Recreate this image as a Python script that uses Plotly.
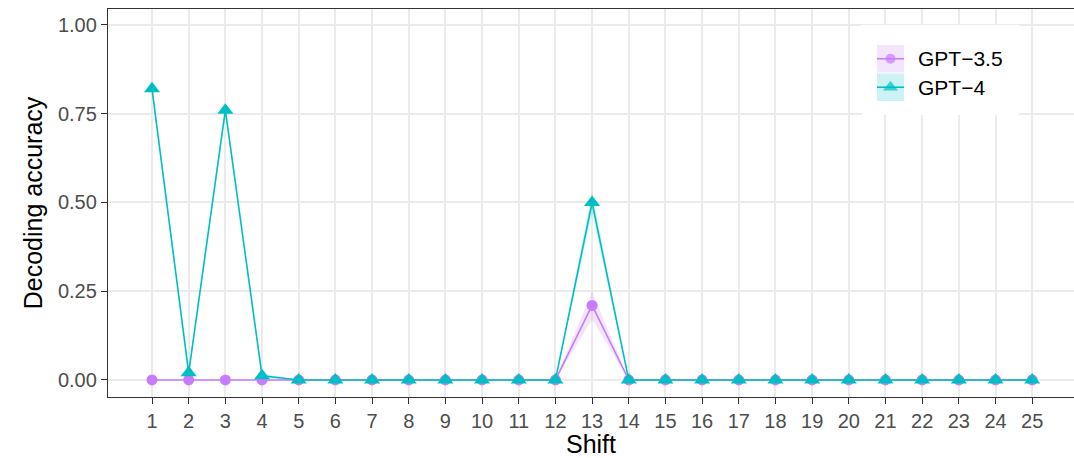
import plotly.graph_objects as go

shift = list(range(1, 26))
gpt35 = [0, 0, 0, 0, 0, 0, 0, 0, 0, 0, 0, 0, 0.21, 0, 0, 0, 0, 0, 0, 0, 0, 0, 0, 0, 0]
gpt35_se = [0, 0, 0, 0, 0, 0, 0, 0, 0, 0, 0, 0, 0.04, 0, 0, 0, 0, 0, 0, 0, 0, 0, 0, 0, 0]
gpt4 = [0.82, 0.02, 0.76, 0.012, 0, 0, 0, 0, 0, 0, 0, 0, 0.50, 0, 0, 0, 0, 0, 0, 0, 0, 0, 0, 0, 0]
gpt4_se = [0.01, 0.01, 0.01, 0.006, 0, 0, 0, 0, 0, 0, 0, 0, 0.03, 0, 0, 0, 0, 0, 0, 0, 0, 0, 0, 0, 0]
series_names = ["GPT\u22123.5", "GPT\u22124"]
colors = ["#C77CFF", "#00BFC4"]
fills = ["rgba(199,124,255,0.2)", "rgba(0,191,196,0.2)"]
symbols = ["circle", "triangle-up"]
sizes = [11, 14]
y_ticks = [0, 0.25, 0.5, 0.75, 1.0]
y_ticklabels = ["0.00", "0.25", "0.50", "0.75", "1.00"]

W, H = 1074, 458
ML, MR, MT, MB = 108, 0, 9, 61
FONT = "Liberation Sans, Arial"

fig = go.Figure()
for vals, se, fc in zip([gpt35, gpt4], [gpt35_se, gpt4_se], fills):
    up = [v + s for v, s in zip(vals, se)]
    lo = [v - s for v, s in zip(vals, se)]
    fig.add_trace(go.Scatter(x=shift + shift[::-1], y=up + lo[::-1], fill="toself",
                             fillcolor=fc, line=dict(width=0), mode="lines",
                             hoverinfo="skip", showlegend=False))
for vals, name, col, sym, sz in zip([gpt35, gpt4], series_names, colors, symbols, sizes):
    fig.add_trace(go.Scatter(x=shift, y=vals, mode="lines+markers", name=name,
                             line=dict(color=col, width=1.6),
                             marker=dict(color=col, symbol=sym, size=sz, line=dict(width=0)),
                             showlegend=False))

# manual ggplot-style legend drawn on an overlay axis spanning the plot area (pixel-based)
def px_x(p):
    return (p - ML) / (W - ML - MR)

def px_y(p):
    return (H - MB - p) / (H - MT - MB)

def rect(x0, x1, y0, y1):
    return ([px_x(x0), px_x(x1), px_x(x1), px_x(x0), px_x(x0)],
            [px_y(y0), px_y(y0), px_y(y1), px_y(y1), px_y(y0)])

bx, by = rect(862, 1019, 25, 115)
fig.add_trace(go.Scatter(x=bx, y=by, xaxis="x2", yaxis="y2", fill="toself", fillcolor="white",
                         mode="lines", line=dict(width=0), hoverinfo="skip", showlegend=False))
annotations = []
key_tops = [45, 73.5]
for i, (name, col, fc, sym, sz) in enumerate(zip(series_names, colors, fills, symbols, sizes)):
    t = key_tops[i]
    kx, ky = rect(877, 904, t, t + 27.5)
    fig.add_trace(go.Scatter(x=kx, y=ky, xaxis="x2", yaxis="y2", fill="toself", fillcolor=fc,
                             mode="lines", line=dict(width=0), hoverinfo="skip", showlegend=False))
    cy = px_y(t + 13.75)
    fig.add_trace(go.Scatter(x=[px_x(877), px_x(890.5), px_x(904)], y=[cy, cy, cy],
                             xaxis="x2", yaxis="y2", mode="lines+markers",
                             line=dict(color=col, width=1.6),
                             marker=dict(color=col, symbol=sym, size=[0, sz - 1, 0], line=dict(width=0)),
                             hoverinfo="skip", showlegend=False))
    annotations.append(dict(xref="paper", yref="paper", x=px_x(916), y=px_y(t + 14),
                            text=name, showarrow=False, xanchor="left", yanchor="middle",
                            font=dict(size=21, color="black", family=FONT)))

axis_common = dict(showgrid=True, gridcolor="#EBEBEB", gridwidth=1.5, zeroline=False,
                   showline=True, linecolor="#333333", linewidth=1.3,
                   ticks="outside", ticklen=6, tickwidth=1.3, tickcolor="#333333",
                   tickfont=dict(size=20, color="#4D4D4D", family=FONT))

fig.update_layout(
    width=W, height=H,
    margin=dict(l=ML, r=MR, t=MT, b=MB),
    paper_bgcolor="white", plot_bgcolor="white",
    font=dict(family=FONT, color="black"),
    xaxis=dict(range=[-0.2, 26.14], tickvals=shift, ticktext=[str(s) for s in shift],
               mirror=True, title=dict(text="Shift", font=dict(size=25, color="black", family=FONT), standoff=2),
               **axis_common),
    yaxis=dict(range=[-0.048, 1.045], tickvals=y_ticks, ticktext=y_ticklabels,
               title=dict(text="Decoding accuracy", font=dict(size=25, color="black", family=FONT), standoff=8),
               **axis_common),
    xaxis2=dict(domain=[0, 1], range=[0, 1], overlaying="x", visible=False, fixedrange=True),
    yaxis2=dict(domain=[0, 1], range=[0, 1], overlaying="y", visible=False, fixedrange=True),
    annotations=annotations,
)

fig.write_html("out.html")
